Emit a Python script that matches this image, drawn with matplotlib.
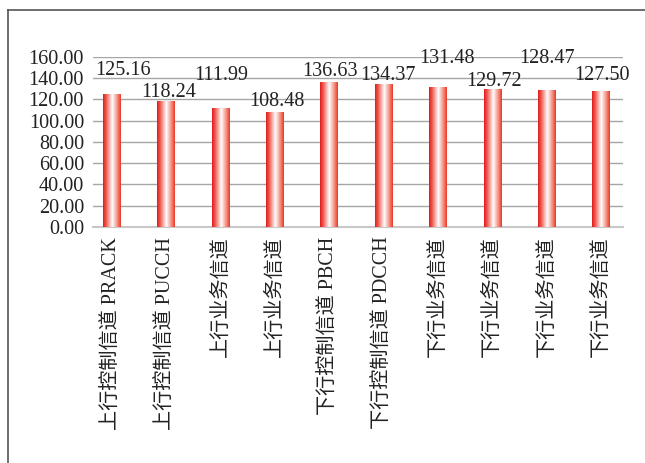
import matplotlib.pyplot as plt
import numpy as np
from matplotlib.colors import LinearSegmentedColormap
from matplotlib.lines import Line2D

plt.rcParams['font.family'] = ['Liberation Serif', 'Noto Sans CJK SC']
plt.rcParams['axes.unicode_minus'] = False

channels = ['上行控制信道 PRACK', '上行控制信道 PUCCH', '上行业务信道', '上行业务信道',
            '下行控制信道 PBCH', '下行控制信道 PDCCH', '下行业务信道', '下行业务信道',
            '下行业务信道', '下行业务信道']
values = [125.16, 118.24, 111.99, 108.48, 136.63, 134.37, 131.48, 129.72, 128.47, 127.50]
y_ticks = [0, 20, 40, 60, 80, 100, 120, 140, 160]

# 数值标签的偏移(像素), 避免相互重叠
label_dx = [11, 2, 0, 2, 0, 4, 9, 1, 0, 1]
label_dy = [19, 4, 28, 6, 6, 4, 24, 3, 27, 11]

fig = plt.figure(figsize=(6.45, 4.63), dpi=100)
ax = fig.add_axes([0.1442, 0.5097, 0.8217, 0.3679])

x = np.arange(len(values))
bars = ax.bar(x, values, width=0.33, color='none', zorder=3)

# 柱子横向渐变: 两边红色, 中间白色
cmap = LinearSegmentedColormap.from_list(
    'redwhite', [(0, '#e01a1c'), (0.18, '#ef5a4e'), (0.52, '#ffffff'),
                 (0.85, '#f37a68'), (1, '#ea3527')])
grad = np.linspace(0, 1, 256).reshape(1, -1)
for b in bars:
    x0, y0 = b.get_x(), b.get_y()
    w, h = b.get_width(), b.get_height()
    im = ax.imshow(grad, cmap=cmap, aspect='auto',
                   extent=[x0, x0 + w, y0, y0 + h], zorder=3)
    im.set_clip_path(b)

for i, v in enumerate(values):
    ax.annotate('%.2f' % v, (x[i], v), xytext=(label_dx[i], label_dy[i]),
                textcoords='offset pixels', ha='center', va='baseline',
                fontsize=14.5, color='#222222', zorder=4)

ax.set_xlim(-0.35, 9.4)
ax.set_ylim(0, 160)
ax.set_yticks(y_ticks)
ax.set_yticklabels(['%.2f' % t for t in y_ticks], fontsize=14.5, color='#222222')
ax.set_xticks(x)
ax.set_xticklabels(channels, rotation=90, fontsize=14.5, color='#222222')
ax.tick_params(axis='both', length=0)
ax.tick_params(axis='y', pad=6.5)
ax.tick_params(axis='x', pad=7)

ax.grid(axis='y', color='#a6a6a6', linewidth=1.0, zorder=0)
for s in ['left', 'right', 'top']:
    ax.spines[s].set_visible(False)
ax.spines['bottom'].set_color('#c8c8c8')
ax.spines['bottom'].set_linewidth(1.5)
ax.spines['bottom'].set_zorder(2)

# 外框(左边和上边)
fx, fy = 7.5 / 645, 1 - 10 / 463
fig.add_artist(Line2D([fx, 1], [fy, fy], color='#555555', linewidth=1.2))
fig.add_artist(Line2D([fx, fx], [0, fy], color='#555555', linewidth=1.2))

fig.savefig('out.png', dpi=100)
